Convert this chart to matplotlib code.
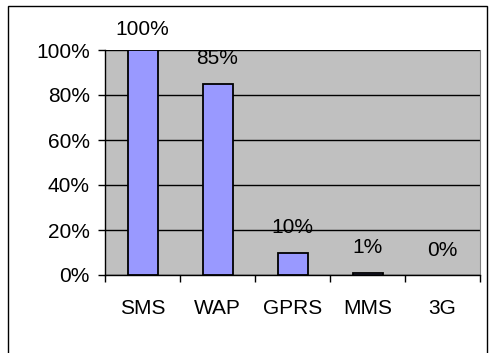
import matplotlib.pyplot as plt
from matplotlib.patches import Rectangle
from matplotlib.ticker import FixedLocator, NullFormatter

categories = ["SMS", "WAP", "GPRS", "MMS", "3G"]
values = [100, 85, 10, 1, 0]
value_labels = ["100%", "85%", "10%", "1%", "0%"]
y_ticks = [0, 20, 40, 60, 80, 100]

plt.rcParams['font.family'] = ['Liberation Sans', 'DejaVu Sans']

fig = plt.figure(figsize=(4.91, 3.53), dpi=100)
ax = fig.add_axes([105 / 491, 1 - 275 / 353, 375 / 491, 225 / 353])
ax.set_facecolor('#C0C0C0')

# chart frame
fig.patches.append(Rectangle((8 / 491, -0.1), 479 / 491, 1.1 - 6 / 353,
                             transform=fig.transFigure, fill=False,
                             edgecolor='black', linewidth=1.0))

xs = range(len(categories))
bars = ax.bar(xs, values, width=0.4, color='#9999FF', edgecolor='black', linewidth=1.3, zorder=3)
for b, v in zip(bars, values):
    if v == 0:
        b.set_linewidth(0)

for x, v, lab in zip(xs, values, value_labels):
    off = 8 if v >= 100 else 11
    ax.annotate(lab, (x, v), xytext=(0, off), textcoords='offset points',
                ha='center', va='bottom', fontsize=15, annotation_clip=False)

ax.set_xlim(-0.5, len(categories) - 0.5)
ax.set_ylim(0, 100)
ax.set_yticks(y_ticks)
ax.set_yticklabels([f"{t}%" for t in y_ticks], fontsize=15)
ax.yaxis.grid(True, color='black', linewidth=1.0, zorder=0)
ax.set_axisbelow(True)

ax.set_xticks(list(xs))
ax.set_xticklabels(categories, fontsize=15)
ax.tick_params(axis='x', which='major', length=0, pad=17)
ax.xaxis.set_minor_locator(FixedLocator([i + 0.5 for i in range(-1, len(categories))]))
ax.xaxis.set_minor_formatter(NullFormatter())
ax.tick_params(axis='x', which='minor', length=5, width=1.0, direction='out')
ax.tick_params(axis='y', length=5, width=1.0, pad=6)

ax.spines['top'].set_visible(False)
ax.spines['right'].set_color('#808080')
ax.spines['left'].set_linewidth(1.0)
ax.spines['bottom'].set_linewidth(1.0)

fig.savefig('out.png', dpi=100)
